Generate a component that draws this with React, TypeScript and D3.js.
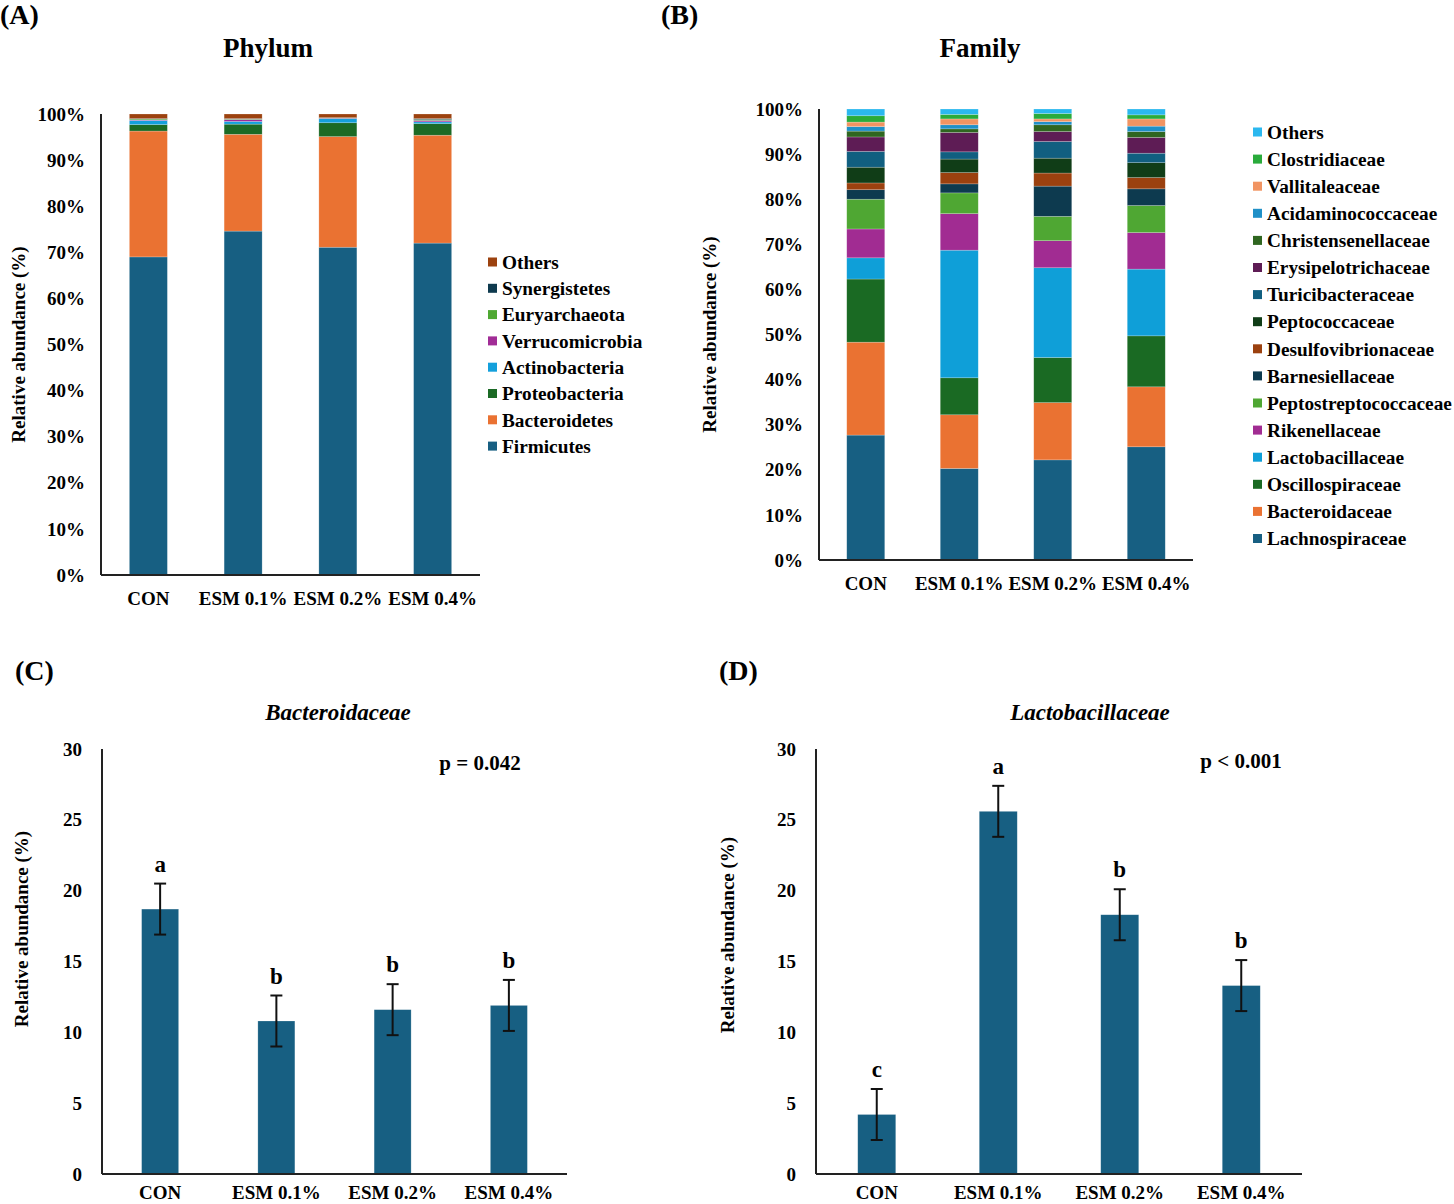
import React from "react";
import * as d3 from "d3";

const groups = ["CON", "ESM 0.1%", "ESM 0.2%", "ESM 0.4%"];
const pctTicks = [0, 10, 20, 30, 40, 50, 60, 70, 80, 90, 100];
const absTicks = [0, 5, 10, 15, 20, 25, 30];

// Phylum (bottom -> top), % per group
const phylumNames = ["Firmicutes", "Bacteroidetes", "Proteobacteria", "Actinobacteria", "Verrucomicrobia", "Euryarchaeota", "Synergistetes", "Others"];
const phylumColors = ["#175f82", "#ea7232", "#1b6a25", "#14a0dc", "#a12c96", "#4ea832", "#0e3a4e", "#9c420f"];
const firmicutes = [69.0, 74.6, 71.1, 72.0];
const bacteroidetes = [27.3, 21.0, 24.0, 23.4];
const proteobacteria = [1.4, 2.2, 3.0, 2.5];
const actinobacteria = [0.9, 0.6, 0.9, 0.4];
const verrucomicrobia = [0.1, 0.4, 0.1, 0.3];
const euryarchaeota = [0.2, 0.1, 0.1, 0.2];
const synergistetes = [0.1, 0.1, 0.0, 0.2];
const phylumOthers = [1.0, 1.0, 0.8, 1.0];
const phylumSeries = [firmicutes, bacteroidetes, proteobacteria, actinobacteria, verrucomicrobia, euryarchaeota, synergistetes, phylumOthers];

// Family (bottom -> top), % per group
const familyNames = ["Lachnospiraceae", "Bacteroidaceae", "Oscillospiraceae", "Lactobacillaceae", "Rikenellaceae", "Peptostreptococcaceae", "Barnesiellaceae", "Desulfovibrionaceae", "Peptococcaceae", "Turicibacteraceae", "Erysipelotrichaceae", "Christensenellaceae", "Acidaminococcaceae", "Vallitaleaceae", "Clostridiaceae", "Others"];
const familyColors = ["#175f82", "#ea7232", "#1a6a23", "#0f9fd8", "#a12c92", "#4fa733", "#0d3a4f", "#9b410f", "#103d17", "#115f80", "#5e1c55", "#2f6620", "#2090c7", "#f19462", "#2aab3b", "#2bb8ef"];
const lachnospiraceae = [27.7, 20.3, 22.2, 25.1];
const bacteroidaceae = [20.6, 11.9, 12.7, 13.3];
const oscillospiraceae = [14.0, 8.2, 10.0, 11.3];
const lactobacillaceae = [4.7, 28.3, 19.9, 14.8];
const rikenellaceae = [6.4, 8.1, 6.0, 8.1];
const peptostreptococcaceae = [6.6, 4.6, 5.4, 6.0];
const barnesiellaceae = [2.1, 2.0, 6.7, 3.7];
const desulfovibrionaceae = [1.5, 2.5, 2.9, 2.5];
const peptococcaceae = [3.5, 3.0, 3.3, 3.3];
const turicibacteraceae = [3.5, 1.6, 3.7, 2.1];
const erysipelotrichaceae = [3.2, 4.3, 2.2, 3.5];
const christensenellaceae = [1.3, 0.8, 1.5, 1.3];
const acidaminococcaceae = [1.0, 0.9, 0.7, 1.2];
const vallitaleaceae = [1.0, 1.3, 0.6, 1.6];
const clostridiaceae = [1.4, 1.0, 1.2, 0.9];
const familyOthers = [1.5, 1.2, 1.0, 1.3];
const familySeries = [lachnospiraceae, bacteroidaceae, oscillospiraceae, lactobacillaceae, rikenellaceae, peptostreptococcaceae, barnesiellaceae, desulfovibrionaceae, peptococcaceae, turicibacteraceae, erysipelotrichaceae, christensenellaceae, acidaminococcaceae, vallitaleaceae, clostridiaceae, familyOthers];

// Panel C / D
const bacteroidaceaeMean = [18.7, 10.8, 11.6, 11.9];
const bacteroidaceaeErr = [1.8, 1.8, 1.8, 1.8];
const bacteroidaceaeLetters = ["a", "b", "b", "b"];
const lactobacillaceaeMean = [4.2, 25.6, 18.3, 13.3];
const lactobacillaceaeErr = [1.8, 1.8, 1.8, 1.8];
const lactobacillaceaeLetters = ["c", "a", "b", "b"];

const FONT = "'Liberation Serif', 'Times New Roman', serif";
const BAR_COLOR = "#175f82";

type StackProps = {
  title: string; titleX: number; label: string; labelX: number;
  x0: number; x1: number; yBottom: number; yTop: number; barW: number;
  names: string[]; colors: string[]; series: number[][];
  legendX: number; legendY: number; legendStep: number;
  yLabelX: number; catY: number;
};

function StackPanel(p: StackProps) {
  const x = d3.scaleBand<string>().domain(groups).range([p.x0, p.x1]).paddingInner(0).paddingOuter(0);
  const y = d3.scaleLinear().domain([0, 100]).range([p.yBottom, p.yTop]);
  const table = groups.map((g, gi) => {
    const row: any = { group: g };
    p.names.forEach((n, ni) => (row[n] = p.series[ni][gi]));
    return row;
  });
  const stacked = d3.stack<any>().keys(p.names)(table);
  const cx = (g: string) => (x(g) as number) + x.bandwidth() / 2;
  const yMid = (p.yBottom + p.yTop) / 2;
  return (
    <g>
      <text x={p.labelX} y={24} fontSize={28} fontWeight="bold" fontFamily={FONT}>{p.label}</text>
      <text x={p.titleX} y={57} fontSize={27} fontWeight="bold" fontFamily={FONT} textAnchor="middle">{p.title}</text>
      {stacked.map((s, si) => (
        <g key={si} fill={p.colors[si]}>
          {s.map((d, di) => (
            <rect key={di} x={cx(groups[di]) - p.barW / 2} y={y(d[1])} width={p.barW}
              height={Math.max(0, y(d[0]) - y(d[1]))} stroke="#ffffff" strokeOpacity={0.35} strokeWidth={0.6} />
          ))}
        </g>
      ))}
      <line x1={p.x0} x2={p.x0} y1={p.yTop} y2={p.yBottom} stroke="#222" strokeWidth={2} />
      <line x1={p.x0} x2={p.x1} y1={p.yBottom} y2={p.yBottom} stroke="#222" strokeWidth={2} />
      {pctTicks.map((t) => (
        <text key={t} x={p.x0 - 16} y={y(t)} dy="0.35em" textAnchor="end" fontSize={19} fontWeight="bold" fontFamily={FONT}>{t}%</text>
      ))}
      {groups.map((g) => (
        <text key={g} x={cx(g)} y={p.catY} dy="0.35em" textAnchor="middle" fontSize={19} fontWeight="bold" fontFamily={FONT}>{g}</text>
      ))}
      <text transform={`translate(${p.yLabelX},${yMid}) rotate(-90)`} textAnchor="middle" dy="0.35em" fontSize={19} fontWeight="bold" fontFamily={FONT}>Relative abundance (%)</text>
      {p.names.slice().reverse().map((n, i) => {
        const ci = p.names.length - 1 - i;
        const ly = p.legendY + i * p.legendStep;
        return (
          <g key={n}>
            <rect x={p.legendX} y={ly - 4.5} width={9} height={9} fill={p.colors[ci]} />
            <text x={p.legendX + 14} y={ly} dy="0.35em" fontSize={19.3} fontWeight="bold" fontFamily={FONT}>{n}</text>
          </g>
        );
      })}
    </g>
  );
}

type BarProps = {
  title: string; titleX: number; label: string; labelX: number;
  x0: number; x1: number; yBottom: number; yTop: number; barW: number;
  means: number[]; errs: number[]; letters: string[];
  pText: string; pX: number; pY: number; yLabelX: number; yLabelY: number;
};

function BarPanel(p: BarProps) {
  const x = d3.scaleBand<string>().domain(groups).range([p.x0, p.x1]);
  const y = d3.scaleLinear().domain([0, 30]).range([p.yBottom, p.yTop]);
  const cx = (g: string) => (x(g) as number) + x.bandwidth() / 2;
  return (
    <g>
      <text x={p.labelX} y={680} fontSize={28} fontWeight="bold" fontFamily={FONT}>{p.label}</text>
      <text x={p.titleX} y={720} fontSize={23} fontWeight="bold" fontStyle="italic" fontFamily={FONT} textAnchor="middle">{p.title}</text>
      <text x={p.pX} y={p.pY} dy="0.35em" fontSize={21} fontWeight="bold" fontFamily={FONT} textAnchor="middle">{p.pText}</text>
      {groups.map((g, i) => {
        const top = y(p.means[i] + p.errs[i]);
        const bot = y(p.means[i] - p.errs[i]);
        return (
          <g key={g}>
            <rect x={cx(g) - p.barW / 2} y={y(p.means[i])} width={p.barW} height={p.yBottom - y(p.means[i])} fill={BAR_COLOR} stroke="#ffffff" strokeOpacity={0.35} strokeWidth={0.6} />
            <line x1={cx(g)} x2={cx(g)} y1={top} y2={bot} stroke="#111" strokeWidth={2} />
            <line x1={cx(g) - 6} x2={cx(g) + 6} y1={top} y2={top} stroke="#111" strokeWidth={2} />
            <line x1={cx(g) - 6} x2={cx(g) + 6} y1={bot} y2={bot} stroke="#111" strokeWidth={2} />
            <text x={cx(g)} y={top - 20} dy="0.35em" textAnchor="middle" fontSize={23} fontWeight="bold" fontFamily={FONT}>{p.letters[i]}</text>
            <text x={cx(g)} y={p.yBottom + 25} textAnchor="middle" fontSize={19} fontWeight="bold" fontFamily={FONT}>{g}</text>
          </g>
        );
      })}
      <line x1={p.x0} x2={p.x0} y1={p.yTop} y2={p.yBottom} stroke="#222" strokeWidth={2} />
      <line x1={p.x0} x2={p.x1} y1={p.yBottom} y2={p.yBottom} stroke="#222" strokeWidth={2} />
      {absTicks.map((t) => (
        <text key={t} x={p.x0 - 20} y={y(t)} dy="0.35em" textAnchor="end" fontSize={19} fontWeight="bold" fontFamily={FONT}>{t}</text>
      ))}
      <text transform={`translate(${p.yLabelX},${p.yLabelY}) rotate(-90)`} textAnchor="middle" dy="0.35em" fontSize={19} fontWeight="bold" fontFamily={FONT}>Relative abundance (%)</text>
    </g>
  );
}

export default function App() {
  return (
    <svg width={1454} height={1204} style={{ position: "absolute", left: 0, top: 0, background: "#fff" }}>
      <rect width={1454} height={1204} fill="#fff" />
      <StackPanel title="Phylum" titleX={268} label="(A)" labelX={0}
        x0={101} x1={480} yBottom={575} yTop={114} barW={38}
        names={phylumNames} colors={phylumColors} series={phylumSeries}
        legendX={488} legendY={262} legendStep={26.3} yLabelX={18} catY={598} />
      <StackPanel title="Family" titleX={980} label="(B)" labelX={661}
        x0={819} x1={1193} yBottom={560} yTop={109} barW={38}
        names={familyNames} colors={familyColors} series={familySeries}
        legendX={1253} legendY={132} legendStep={27.1} yLabelX={709} catY={583} />
      <BarPanel title="Bacteroidaceae" titleX={338} label="(C)" labelX={15}
        x0={102} x1={567} yBottom={1174} yTop={749} barW={37}
        means={bacteroidaceaeMean} errs={bacteroidaceaeErr} letters={bacteroidaceaeLetters}
        pText="p = 0.042" pX={480} pY={763} yLabelX={21} yLabelY={929} />
      <BarPanel title="Lactobacillaceae" titleX={1090} label="(D)" labelX={719}
        x0={816} x1={1302} yBottom={1174} yTop={749} barW={38}
        means={lactobacillaceaeMean} errs={lactobacillaceaeErr} letters={lactobacillaceaeLetters}
        pText="p < 0.001" pX={1241} pY={761} yLabelX={727} yLabelY={935} />
    </svg>
  );
}
